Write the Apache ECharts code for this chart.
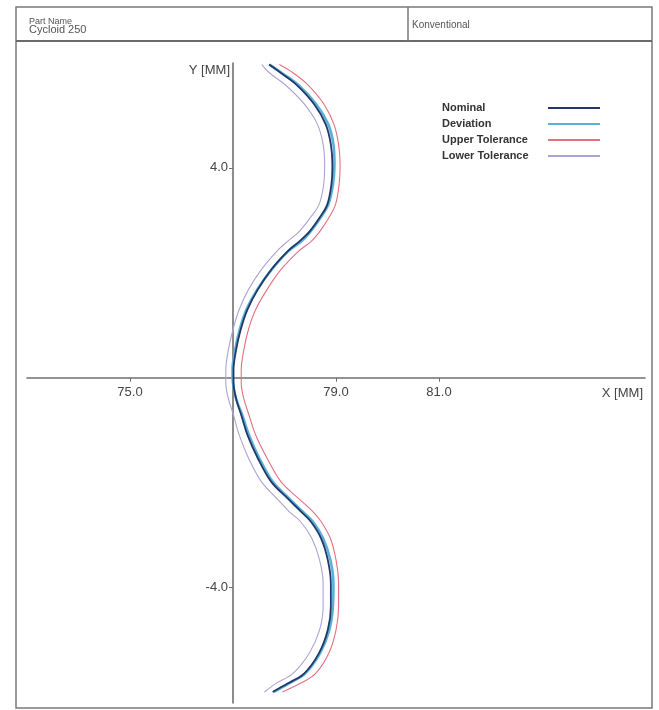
<!DOCTYPE html>
<html>
<head>
<meta charset="utf-8">
<script src="https://cdn.jsdelivr.net/npm/echarts@6/dist/echarts.min.js"></script>
<style>html,body{margin:0;padding:0;background:#fff;}#chart{width:659px;height:710px;}</style>
</head>
<body>
<div id="chart"></div>
<script>
// ---- data ----
var seriesNames = ['Nominal', 'Deviation', 'Upper Tolerance', 'Lower Tolerance'];
var yValues = [5.97, 5.81, 5.58, 5.21, 4.83, 4.45, 4.06, 3.68, 3.30, 3.05, 2.78, 2.60, 2.41, 2.06, 1.68, 1.30, 0.92, 0.53, 0.15,
  -0.10, -0.40, -0.71, -1.09, -1.53, -1.98, -2.30, -2.55, -2.74, -3.06, -3.47, -3.92, -4.36, -4.81, -5.25, -5.64, -5.83, -5.99];
var nominalX = [77.70, 77.93, 78.24, 78.58, 78.80, 78.90, 78.93, 78.91, 78.83, 78.68, 78.48, 78.29, 78.06, 77.74, 77.48, 77.28, 77.15, 77.06, 77.01,
  77.01, 77.06, 77.16, 77.28, 77.48, 77.74, 78.06, 78.32, 78.51, 78.71, 78.84, 78.90, 78.90, 78.84, 78.67, 78.38, 78.06, 77.77];
var deviationX = [77.71, 77.95, 78.27, 78.62, 78.85, 78.95, 78.97, 78.94, 78.85, 78.70, 78.50, 78.33, 78.07, 77.75, 77.47, 77.26, 77.13, 77.04, 76.99,
  77.00, 77.06, 77.18, 77.31, 77.51, 77.77, 78.09, 78.35, 78.55, 78.75, 78.89, 78.95, 78.94, 78.87, 78.69, 78.40, 78.08, 77.79];
var upperX = [77.90, 78.17, 78.46, 78.77, 78.96, 79.05, 79.08, 79.06, 78.99, 78.86, 78.68, 78.52, 78.27, 77.93, 77.66, 77.44, 77.30, 77.21, 77.16,
  77.16, 77.21, 77.31, 77.44, 77.66, 77.93, 78.27, 78.55, 78.71, 78.89, 79.00, 79.05, 79.05, 79.00, 78.86, 78.60, 78.30, 77.96];
var lowerX = [77.56, 77.71, 78.02, 78.39, 78.64, 78.75, 78.78, 78.76, 78.67, 78.50, 78.28, 78.06, 77.85, 77.55, 77.30, 77.12, 77.00, 76.91, 76.86,
  76.86, 76.91, 77.01, 77.12, 77.30, 77.55, 77.85, 78.09, 78.31, 78.53, 78.68, 78.75, 78.75, 78.68, 78.48, 78.16, 77.83, 77.61];
var xTickValues = [75, 79, 81];
var yTickValues = [-4, 4];
var xMin = 73, xMax = 85, yMin = -6.2, yMax = 6.0;
var yAxisCrossX = 77, xAxisCrossY = 0;
var headerPart = ['Part Name', 'Cycloid 250'];
var headerRight = 'Konventional';

function pairs(xs) { return xs.map(function (x, i) { return [x, yValues[i]]; }); }

var colors = ['#22386a', '#5cb0d6', '#e4707e', '#aaa4d6'];
var widths = [1.8, 2.6, 1.1, 1.1];
var zs = [4, 3, 2, 2];
var xsList = [nominalX, deviationX, upperX, lowerX];

var W = 659, H = 710;
var gridLeft = 27, gridRight = 14, gridTop = 63, gridBottom = 7;
var gridWidth = W - gridLeft - gridRight;
var gridHeight = H - gridTop - gridBottom;
var yAxisOffset = -gridWidth * (yAxisCrossX - xMin) / (xMax - xMin);
var xAxisOffset = -gridHeight * (xAxisCrossY - yMin) / (yMax - yMin);

var font = 'Liberation Sans, Arial, sans-serif';
var chart = echarts.init(document.getElementById('chart'), null, {renderer: 'canvas'});
chart.setOption({
  backgroundColor: '#fff',
  animation: false,
  grid: {left: gridLeft, right: gridRight, top: gridTop, bottom: gridBottom, containLabel: false, outerBoundsMode: 'none'},
  xAxis: {
    type: 'value', min: xMin, max: xMax, position: 'bottom', offset: xAxisOffset,
    name: 'X [MM]', nameLocation: 'end', nameGap: -2,
    nameTextStyle: {align: 'right', verticalAlign: 'top', padding: [9, 0, 0, 0], fontSize: 13, color: '#444', fontFamily: font},
    axisLine: {show: true, onZero: false, lineStyle: {color: '#707070', width: 1.6}},
    axisTick: {show: true, customValues: xTickValues, length: 4, lineStyle: {color: '#707070'}},
    axisLabel: {customValues: xTickValues, margin: 8, fontSize: 13, color: '#444', fontFamily: font,
      formatter: function (v) { return v.toFixed(1); }},
    splitLine: {show: false}
  },
  yAxis: {
    type: 'value', min: yMin, max: yMax, position: 'left', offset: yAxisOffset,
    name: 'Y [MM]', nameLocation: 'end', nameGap: -1,
    nameTextStyle: {align: 'right', verticalAlign: 'top', padding: [0, 3, 0, 0], fontSize: 13, color: '#444', fontFamily: font},
    axisLine: {show: true, onZero: false, lineStyle: {color: '#707070', width: 1.6}},
    axisTick: {show: true, customValues: yTickValues, length: 4, lineStyle: {color: '#707070'}},
    axisLabel: {customValues: yTickValues, margin: 5, fontSize: 13, color: '#444', fontFamily: font,
      formatter: function (v) { return v.toFixed(1); }},
    splitLine: {show: false}
  },
  legend: {
    orient: 'vertical', left: 437, top: 97, align: 'right', icon: 'rect',
    itemWidth: 52, itemHeight: 2, itemGap: 4,
    formatter: function (name) { return '{t|' + name + '}'; },
    textStyle: {fontSize: 11, fontWeight: 'bold', color: '#333', lineHeight: 12, fontFamily: font,
      rich: {t: {width: 101, align: 'left', fontSize: 11, lineHeight: 12, fontWeight: 'bold', color: '#333', fontFamily: font}}},
    data: seriesNames
  },
  graphic: [
    {type: 'rect', shape: {x: 16, y: 7, width: 636, height: 701}, style: {fill: 'none', stroke: '#7a7a7a', lineWidth: 1.5}, silent: true},
    {type: 'line', shape: {x1: 16, y1: 41, x2: 652, y2: 41}, style: {stroke: '#6a6a6a', lineWidth: 1.8}, silent: true},
    {type: 'line', shape: {x1: 408, y1: 7, x2: 408, y2: 41}, style: {stroke: '#7a7a7a', lineWidth: 1.5}, silent: true},
    {type: 'text', x: 29, y: 17, style: {text: headerPart[0], fontSize: 9, fill: '#555', fontFamily: font}, silent: true},
    {type: 'text', x: 29, y: 24, style: {text: headerPart[1], fontSize: 11, fill: '#555', fontFamily: font}, silent: true},
    {type: 'text', x: 412, y: 20, style: {text: headerRight, fontSize: 10, fill: '#555', fontFamily: font}, silent: true}
  ],
  series: seriesNames.map(function (name, i) {
    return {
      name: name, type: 'line', data: pairs(xsList[i]), showSymbol: false, symbol: 'none',
      smooth: 0.35, z: zs[i], color: colors[i],
      lineStyle: {color: colors[i], width: widths[i]}
    };
  })
});
</script>
</body>
</html>
